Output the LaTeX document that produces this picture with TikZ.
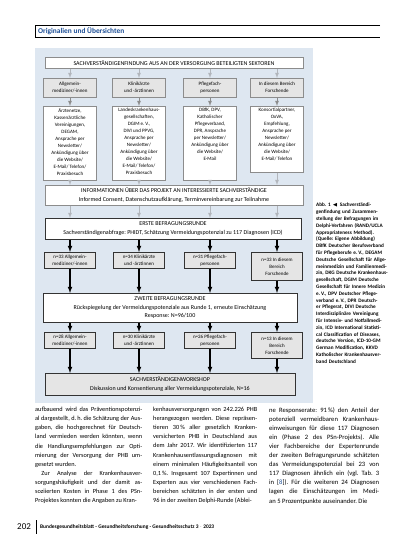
\documentclass[tikz,border=0pt]{standalone}
\usepackage{amssymb}
\usepackage{fontspec}
\setmainfont{Carlito}
\usepackage[ngerman,provide=*]{babel}
\usepackage{tikz}
\usetikzlibrary{calc,arrows,positioning}
\definecolor{flowbg}{RGB}{222,231,241}
\definecolor{boxgrey}{RGB}{229,229,229}
\definecolor{linegrey}{RGB}{140,140,140}
\definecolor{palegrey}{RGB}{178,182,188}
\definecolor{headblue}{RGB}{28,78,150}

\begin{document}
\begin{tikzpicture}[x=1pt,y=-1pt]

\tikzset{smallfont/.style={font=\fontsize{5}{7}\selectfont},
widefont/.style={font=\fontsize{6}{8.5}\selectfont},
upbox/.style={draw=linegrey,line width=0.5pt,align=center,inner sep=1pt,anchor=north},
lowbox/.style={draw=black!80,line width=0.6pt,align=center,inner sep=1pt,anchor=north},
paleline/.style={draw=palegrey,line width=0.8pt,-latex},
greyline/.style={draw=linegrey,line width=0.8pt,-latex},
blackline/.style={draw=black,line width=1.1pt,-latex},
bodytext/.style={anchor=north west,inner sep=0pt,align=justify,font=\fontsize{6.3}{9.1}\selectfont}}

\fill[white] (0,0) rectangle (413,550);
\useasboundingbox (0,0) rectangle (413,550);

% Header
\draw[line width=0.8pt] (380,25) -- (35,25) -- (35,37) -- (380,37);
\node[anchor=west,inner sep=0pt,text=headblue,font=\fontsize{7.4}{8}\selectfont\bfseries] (rubrik) at (38,31) {Originalien und Übersichten};

% Background of the figure
\fill[flowbg] (35,48) rectangle (313,403);

% Recruitment
\node[upbox,widefont,fill=white,minimum width=258,minimum height=11] (sektoren) at (174,57) {SACHVERSTÄNDIGENFINDUNG AUS AN DER VERSORGUNG BETEILIGTEN SEKTOREN};

\foreach \i/\x/\t in {1/70/{Allgemein-\\mediziner/-innen},2/139/{Klinikärzte\\und -ärztinnen},3/210/{Pflegefach-\\personen},4/277/{In diesem Bereich\\Forschende}}
  \node[upbox,smallfont,fill=boxgrey,minimum width=53,minimum height=19] (g\i) at (\x,78) {\t};

\foreach \i/\x/\h/\t in {1/70/70/{Ärztenetze,\\Kassenärztliche\\Vereinigungen,\\DEGAM,\\Ansprache per\\Newsletter/\\Ankündigung über\\die Website/\\E-Mail/ Telefon/\\Praxisbesuch},
  2/139/70/{Landeskrankenhaus-\\gesellschaften,\\DGIM e.\,V.,\\DIVI und PPVG,\\Ansprache per\\Newsletter/\\Ankündigung über\\die Website/\\E-Mail/ Telefon/\\Praxisbesuch},
  3/210/70/{DBfK, DPV,\\Katholischer\\Pflegeverband,\\DPR, Ansprache\\per Newsletter/\\Ankündigung über\\die Website/\\E-Mail},
  4/277/62/{Konsortialpartner,\\OxVA,\\Empfehlung,\\Ansprache per\\Newsletter/\\Ankündigung über\\die Website/\\E-Mail/ Telefon}}
  \node[upbox,smallfont,fill=white,inner sep=2pt] (w\i) at (\x,106) {\parbox[c][\h pt][t]{49pt}{\centering\t}};

\node[upbox,widefont,fill=white,minimum width=258,minimum height=20] (info) at (174,185) {INFORMATIONEN ÜBER DAS PROJEKT AN INTERESSIERTE SACHVERSTÄNDIGE\\Informed Consent, Datenschutzaufklärung, Terminvereinbarung zur Teilnahme};

\foreach \i in {1,...,4} {
  \draw[paleline] (sektoren.south -| g\i.north) -- (g\i.north);
  \draw[greyline] (g\i.south) -- (w\i.north);
  \draw[paleline] (w\i.south) -- (info.north -| w\i.south);
}

% Delphi rounds
\node[lowbox,widefont,fill=white,minimum width=256,minimum height=21] (erste) at (173,218) {ERSTE BEFRAGUNGSRUNDE\\Sachverständigenabfrage: PHIDT, Schätzung Vermeidungspotenzial zu 117 Diagnosen (ICD)};

\foreach \i/\x/\h/\t in {1/70/16/{n=33 Allgemein-\\mediziner/-innen},2/139/16/{n=34 Klinikärzte\\und -ärztinnen},3/210/16/{n=31 Pflegefach-\\personen},4/277/28/{n=33 In diesem\\Bereich\\Forschende}}
  \node[lowbox,smallfont,fill=boxgrey,minimum width=51,minimum height=\h] (e\i) at (\x,252) {\t};

\node[lowbox,widefont,fill=white,minimum width=254,minimum height=29] (zweite) at (170,293) {ZWEITE BEFRAGUNGSRUNDE\\Rückspiegelung der Vermeidungspotenziale aus Runde 1, erneute Einschätzung\\Response: N=96/100};

\foreach \i/\x/\h/\t in {1/70/16/{n=28 Allgemein-\\mediziner/-innen},2/139/16/{n=30 Klinikärzte\\und -ärztinnen},3/210/16/{n=26 Pflegefach-\\personen},4/277/26/{n=13 In diesem\\Bereich\\Forschende}}
  \node[lowbox,smallfont,fill=boxgrey,minimum width=51,minimum height=\h] (z\i) at (\x,332) {\t};

\node[lowbox,widefont,fill=boxgrey,minimum width=250,minimum height=22] (workshop) at (170,373) {SACHVERSTÄNDIGENWORKSHOP\\Diskussion und Konsentierung aller Vermeidungspotenziale, N=16};

\foreach \i in {1,...,4} {
  \draw[paleline] (info.south -| w\i.south) -- (erste.north -| w\i.south);
  \draw[blackline] (erste.south -| e\i.north) -- (e\i.north);
  \draw[blackline] (e\i.south) -- (zweite.north -| e\i.south);
  \draw[blackline] (zweite.south -| z\i.north) -- (z\i.north);
  \draw[blackline] (z\i.south) -- (workshop.north -| z\i.south);
}

% Caption
\node[anchor=north west,inner sep=0pt,text width=72,align=left,font=\fontsize{5.2}{6.8}\selectfont\bfseries] (legende) at (316,203) {Abb. 1 $\blacktriangleleft$ Sachverständigenfindung und Zusammenstellung der Befragungen im Delphi-Verfahren (RAND/UCLA Appropriateness Method). (Quelle: Eigene Abbildung) DBfK Deutscher Berufsverband für Pflegeberufe e.\,V., DEGAM Deutsche Gesellschaft für Allgemeinmedizin und Familienmedizin, DKG Deutsche Krankenhausgesellschaft, DGIM Deutsche Gesellschaft für Innere Medizin e.\,V., DPV Deutscher Pflegeverband e.\,V., DPR Deutscher Pflegerat, DIVI Deutsche Interdisziplinäre Vereinigung für Intensiv- und Notfallmedizin, ICD International Statistical Classification of Diseases, deutsche Version, ICD-10-GM German Modification, KKVD Katholischer Krankenhausverband Deutschland};

% Body text
\node[bodytext,text width=107] (spalteA) at (35,407) {aufbauend wird das Präventionspotenzi-\linebreak al dargestellt, d.\,h. die Schätzung der Aus-\linebreak gaben, die hochgerechnet für Deutsch-\linebreak land vermieden werden könnten, wenn\linebreak die Handlungsempfehlungen zur Opti-\linebreak mierung der Versorgung der PHB um-\linebreak gesetzt wurden.\par\parfillskip=0pt\hspace*{1em}Zur Analyse der Krankenhausver-\linebreak sorgungshäufigkeit und der damit as-\linebreak soziierten Kosten in Phase 1 des PSn-\linebreak Projektes konnten die Angaben zu Kran-};
\node[bodytext,text width=104] (spalteB) at (153,407) {\parfillskip=0pt kenhausversorgungen von 242.226 PHB\linebreak herangezogen werden. Diese repräsen-\linebreak tieren 30\,\% aller gesetzlich Kranken-\linebreak versicherten PHB in Deutschland aus\linebreak dem Jahr 2017. Wir identifizierten 117\linebreak Krankenhausentlassungsdiagnosen mit\linebreak einem minimalen Häufigkeitsanteil von\linebreak 0,1\,\%. Insgesamt 107 Expertinnen und\linebreak Experten aus vier verschiedenen Fach-\linebreak bereichen schätzten in der ersten und\linebreak 96 in der zweiten Delphi-Runde (Ablei-};
\node[bodytext,text width=110,font=\fontsize{6.6}{9.1}\selectfont] (spalteC) at (269,407) {\parfillskip=0pt ne Responserate: 91\,\%) den Anteil der\linebreak potenziell vermeidbaren Krankenhaus-\linebreak einweisungen für diese 117 Diagnosen\linebreak ein (Phase 2 des PSn-Projekts). Alle\linebreak vier Fachbereiche der Expertenrunde\linebreak der zweiten Befragungsrunde schätzten\linebreak das Vermeidungspotenzial bei 23 von\linebreak 117 Diagnosen ähnlich ein (vgl. Tab. 3\linebreak in [\textcolor{headblue}{8}]). Für die weiteren 24 Diagnosen\linebreak lagen die Einschätzungen im Medi-\linebreak an 5 Prozentpunkte auseinander. Die};

% Footer
\node[anchor=west,inner sep=0pt,font=\fontsize{9}{10}\selectfont] (seite) at (17,527) {202};
\draw[line width=0.6pt] (36,520) -- (36,534);
\node[anchor=west,inner sep=0pt,font=\fontsize{5.4}{6}\selectfont\bfseries] (journal) at (40,527) {Bundesgesundheitsblatt - Gesundheitsforschung - Gesundheitsschutz 3 $\cdot$ 2023};

\end{tikzpicture}
\end{document}
